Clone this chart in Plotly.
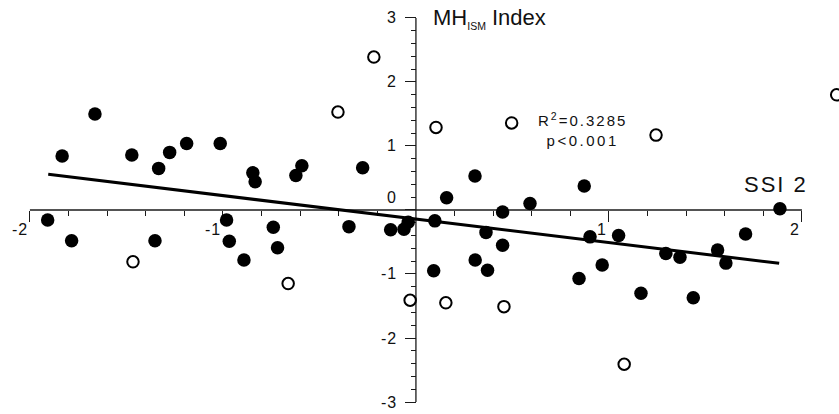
import plotly.graph_objects as go

# ---------------- data ----------------
filled_x = [-1.908, -1.833, -1.784, -1.663, -1.472, -1.352, -1.333, -1.276, -1.188, -1.014,
            -0.981, -0.967, -0.891, -0.845, -0.833, -0.739, -0.717, -0.622, -0.591, -0.347,
            -0.276, -0.131, -0.062, -0.040, 0.098, 0.092, 0.159, 0.306, 0.307, 0.363,
            0.371, 0.449, 0.449, 0.591, 0.845, 0.872, 0.902, 0.965, 1.050, 1.166,
            1.295, 1.368, 1.437, 1.563, 1.606, 1.708, 1.886]
filled_y = [-0.156, 0.844, -0.48, 1.50, 0.86, -0.48, 0.65, 0.90, 1.04, 1.04,
            -0.156, -0.49, -0.78, 0.58, 0.44, -0.27, -0.59, 0.54, 0.69, -0.26,
            0.66, -0.31, -0.30, -0.19, -0.17, -0.95, 0.19, 0.53, -0.78, -0.35,
            -0.94, -0.03, -0.55, 0.10, -1.07, 0.375, -0.42, -0.86, -0.40, -1.30,
            -0.68, -0.74, -1.37, -0.625, -0.83, -0.375, 0.02]

open_x = [-1.466, -0.662, -0.404, -0.218, -0.030, 0.104, 0.155, 0.456, 0.496, 1.079, 1.244, 2.18]
open_y = [-0.81, -1.15, 1.53, 2.39, -1.41, 1.29, -1.45, -1.51, 1.36, -2.41, 1.17, 1.80]

trend_x = [-1.905, 1.882]
trend_y = [0.557, -0.833]

x_major = [-2, -1, 1, 2]
x_tick_labels = ["-2", "-1", "1", "2"]
y_major = [-3, -2, -1, 0, 1, 2, 3]
y_tick_labels = ["-3", "-2", "-1", "0", "1", "2", "3"]
x_minor = [round(-2 + 0.2 * i, 1) for i in range(21) if i % 5 != 0]
y_minor = [round(-3 + 0.2 * i, 1) for i in range(31) if i % 5 != 0]

x_title = "SSI 2"
y_title_main = "MH"
y_title_sub = "ISM"
y_title_tail = "Index"
stats_r2 = "0.3285"
stats_p = "p&lt;0.001"


def spaced(text, px):
    return "<span style='letter-spacing:%spx'>%s</span>" % (px, text)


# ---------------- figure ----------------
W, H = 839, 414
X_RANGE = [-2.155, 2.192]
Y_RANGE = [-3.1875, 3.281]
FONT = "Liberation Sans, Arial, Helvetica, sans-serif"
AX = "#1a1a1a"
TXT = "#111111"

fig = go.Figure()

fig.add_trace(go.Scatter(x=trend_x, y=trend_y, mode="lines",
                         line=dict(color="black", width=3), hoverinfo="skip"))
fig.add_trace(go.Scatter(x=filled_x, y=filled_y, mode="markers",
                         marker=dict(size=13.5, color="black", line=dict(width=0))))
fig.add_trace(go.Scatter(x=open_x, y=open_y, mode="markers",
                         marker=dict(size=11.5, color="white",
                                     line=dict(width=2, color="black"))))

# axis lines crossing at the origin
fig.add_shape(type="line", x0=x_major[0], x1=x_major[-1], y0=0, y1=0,
              line=dict(color=AX, width=1.3), layer="below")
fig.add_shape(type="line", x0=0, x1=0, y0=y_major[0], y1=y_major[-1],
              line=dict(color=AX, width=1.3), layer="below")

x_pos = (0 - Y_RANGE[0]) / (Y_RANGE[1] - Y_RANGE[0])
y_pos = (0 - X_RANGE[0]) / (X_RANGE[1] - X_RANGE[0])

fig.update_xaxes(range=X_RANGE, showgrid=False, zeroline=False, showline=False,
                 anchor="free", position=x_pos, layer="below traces",
                 tickmode="array", tickvals=x_major, ticks="outside", ticklen=11,
                 tickwidth=1.3, tickcolor=AX, showticklabels=False,
                 minor=dict(tickmode="array", tickvals=x_minor, ticks="outside",
                            ticklen=5, tickwidth=1.3, tickcolor=AX))
fig.update_yaxes(range=Y_RANGE, showgrid=False, zeroline=False, showline=False,
                 anchor="free", position=y_pos, layer="below traces",
                 tickmode="array", tickvals=y_major, ticks="outside", ticklen=11,
                 tickwidth=1.3, tickcolor=AX, showticklabels=False,
                 minor=dict(tickmode="array", tickvals=y_minor, ticks="outside",
                            ticklen=5, tickwidth=1.3, tickcolor=AX))

for v, t in zip(x_major, x_tick_labels):
    fig.add_annotation(x=v, y=0, text=spaced(t, 1), showarrow=False, xanchor="right",
                       yanchor="top", xshift=0, yshift=-9,
                       font=dict(family=FONT, size=16, color=TXT))
for v, t in zip(y_major, y_tick_labels):
    fig.add_annotation(x=0, y=v, text=spaced(t, 1), showarrow=False, xanchor="right",
                       yanchor="middle", xshift=-17, yshift=(12 if v == 0 else 0),
                       font=dict(family=FONT, size=16, color=TXT))

fig.add_annotation(x=0.08, y=2.985,
                   text="%s<sub><span style='font-size:10.5px'>%s</span></sub> %s"
                        % (y_title_main, y_title_sub, y_title_tail),
                   showarrow=False, xanchor="left", yanchor="middle",
                   font=dict(family=FONT, size=22, color=TXT))
fig.add_annotation(x=2.04, y=0.395, text=spaced(x_title, 2), showarrow=False,
                   xanchor="right", yanchor="middle",
                   font=dict(family=FONT, size=22, color=TXT))
fig.add_annotation(x=0.865, y=1.26,
                   text=spaced("R<sup>2</sup>=" + stats_r2, 2) + "<br>" + spaced(stats_p, 2.5),
                   showarrow=False, xanchor="center", yanchor="middle",
                   font=dict(family=FONT, size=15, color=TXT))

fig.update_layout(width=W, height=H, autosize=False, showlegend=False,
                  margin=dict(l=0, r=0, t=0, b=0, pad=0),
                  plot_bgcolor="white", paper_bgcolor="white",
                  font=dict(family=FONT, color=TXT))

fig.write_html("out.html", config={"displayModeBar": False},
               post_script="document.body.style.margin='0';document.body.style.overflow='hidden';")
